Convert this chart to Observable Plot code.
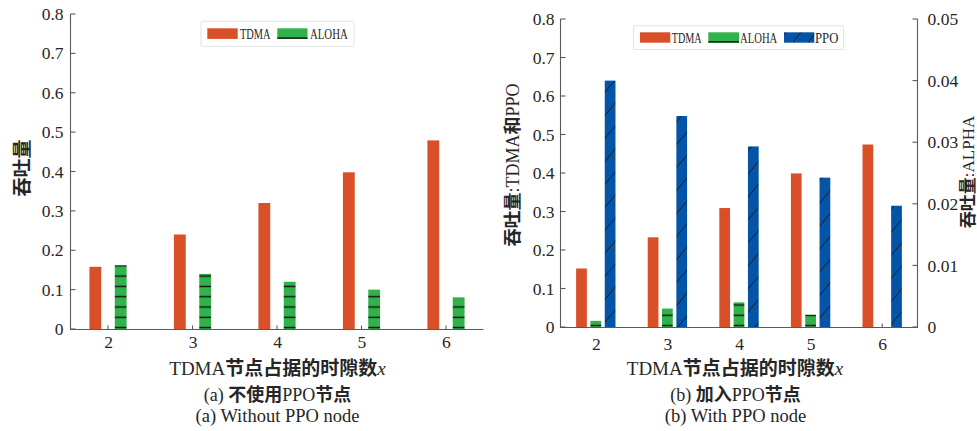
<!DOCTYPE html>
<html><head><meta charset="utf-8">
<script src="https://cdn.jsdelivr.net/npm/d3@7"></script>
<script src="https://cdn.jsdelivr.net/npm/@observablehq/plot@0.6"></script>
<style>
body{margin:0;background:#fff;width:977px;height:431px;overflow:hidden;position:relative;}
.panel{position:absolute;top:0}
#overlay{position:absolute;left:0;top:0;pointer-events:none}
</style></head><body>
<div id="a" class="panel" style="left:0;width:490px"></div>
<div id="b" class="panel" style="left:490px;width:487px"></div>
<script>
// ---------- data ----------
const categories = [2, 3, 4, 5, 6];
const tdmaA  = [0.158, 0.240, 0.320, 0.398, 0.479];
const alohaA = [0.162, 0.140, 0.120, 0.100, 0.080];
const tdmaB  = [0.152, 0.233, 0.309, 0.399, 0.474];
const alohaB = [0.001, 0.003, 0.004, 0.002, 0.000];   // right axis
const ppoB   = [0.640, 0.548, 0.469, 0.388, 0.315];
const yTicksLeft  = [0, 0.1, 0.2, 0.3, 0.4, 0.5, 0.6, 0.7, 0.8];
const yTicksRight = [0, 0.01, 0.02, 0.03, 0.04, 0.05];
const seriesA = ["TDMA", "ALOHA"];
const seriesB = ["TDMA", "ALOHA", "PPO"];

// ---------- style ----------
const C_TDMA = "#D95028", C_ALOHA = "#32B24A", C_PPO = "#0455A8";
const AXIS = "#5a5a5a", TXT = "#262626";
const FONT = '"Liberation Serif","Noto Sans CJK SC",serif';
const kRight = yTicksLeft[yTicksLeft.length - 1] / yTicksRight[yTicksRight.length - 1];

const hPattern = (id, color, step) => (index, scales, values, dims) => {
  const y0 = scales.y(0);
  const d = d3.create("svg:defs");
  const p = d.append("pattern").attr("id", id).attr("patternUnits", "userSpaceOnUse")
    .attr("width", 40).attr("height", step).attr("y", y0 - step);
  p.append("rect").attr("width", 40).attr("height", step).attr("fill", color);
  p.append("line").attr("x1", 0).attr("x2", 40).attr("y1", step - 1.3).attr("y2", step - 1.3)
    .attr("stroke", "#111").attr("stroke-width", 1.4);
  return d.node();
};
const dPattern = (id, color) => () => {
  const d = d3.create("svg:defs");
  const w = 19.2, h = 23;
  const p = d.append("pattern").attr("id", id).attr("patternUnits", "userSpaceOnUse")
    .attr("width", w).attr("height", h);
  p.append("rect").attr("width", w).attr("height", h).attr("fill", color);
  p.append("path").attr("d", `M${-2},${h + 2.4}L${w + 2},${-2.4}`)
    .attr("stroke", "#111").attr("stroke-width", 0.9);
  return d.node();
};
const frame = (opts) => (index, scales, values, dims) => {
  const {width, height, marginLeft, marginRight, marginTop, marginBottom} = dims;
  const xl = marginLeft + 0.5, xr = width - marginRight - 0.5, yb = height - marginBottom + 0.5, yt = marginTop;
  const g = d3.create("svg:g").attr("stroke", AXIS).attr("fill", "none").attr("stroke-width", 1.1);
  g.append("path").attr("d", `M${xl},${yt}V${yb}H${xr}` + (opts.right ? `V${yt}` : ""));
  opts.yTicks.forEach(v => g.append("path").attr("d", `M${xl},${scales.y(v)}h5`));
  categories.forEach(v => g.append("path").attr("d", `M${scales.x(v)},${yb}v-4`));
  if (opts.right) opts.rightTicks.forEach(v => g.append("path").attr("d", `M${xr},${scales.y(v * kRight)}h-5`));
  return g.node();
};
const bars = (vals, off, w, fill, k = 1) =>
  Plot.rectY(categories, {x1: c => c + off - w / 2, x2: c => c + off + w / 2, y1: 0, y2: (c, i) => vals[i] * k, fill});

const style = {background: "transparent", fontFamily: FONT, fontSize: "17.5px", color: TXT, overflow: "visible"};
const fmt1 = d => d === 0 ? "0" : d.toFixed(1);

// ---------- panel (a) ----------
const wA = 0.14, oA = 0.15;
const plotA = Plot.plot({
  width: 490, height: 350,
  marginLeft: 70, marginRight: 6, marginTop: 14, marginBottom: 21,
  style,
  x: {domain: [1.55, 6.45]},
  y: {domain: [0, 0.8]},
  marks: [
    hPattern("hatchA", C_ALOHA, 10.3),
    bars(tdmaA, -oA, wA, C_TDMA),
    bars(alohaA, oA, wA, "url(#hatchA)"),
    frame({yTicks: yTicksLeft}),
    Plot.axisY(yTicksLeft, {tickSize: 0, tickPadding: 7, tickFormat: fmt1, label: null}),
    Plot.axisX(categories, {tickSize: 0, tickPadding: 6, tickFormat: d => String(d), label: null})
  ]
});
document.getElementById("a").append(plotA);

// ---------- panel (b) ----------
const wB = 0.15, oB = 0.2;
const plotB = Plot.plot({
  width: 487, height: 350,
  marginLeft: 70, marginRight: 59, marginTop: 19, marginBottom: 23,
  style,
  x: {domain: [1.5, 6.5]},
  y: {domain: [0, 0.8]},
  marks: [
    hPattern("hatchB", C_ALOHA, 10.3),
    dPattern("diagB", C_PPO),
    bars(tdmaB, -oB, wB, C_TDMA),
    bars(alohaB, 0, wB, "url(#hatchB)", kRight),
    bars(ppoB, oB, wB, "url(#diagB)"),
    frame({yTicks: yTicksLeft, right: true, rightTicks: yTicksRight}),
    Plot.axisY(yTicksLeft, {tickSize: 0, tickPadding: 6, tickFormat: fmt1, label: null}),
    Plot.axisY(yTicksRight.map(t => t * kRight), {anchor: "right", tickSize: 0, tickPadding: 9,
      tickFormat: d => { const v = +(d / kRight).toFixed(3); return v === 0 ? "0" : String(v); }, label: null}),
    Plot.axisX(categories, {tickSize: 0, tickPadding: 10, tickFormat: d => String(d), label: null})
  ]
});
document.getElementById("b").append(plotB);

// ---------- overlay: titles, captions, legends ----------
const ov = d3.select("body").append("svg").attr("id", "overlay").attr("width", 977).attr("height", 431)
  .style("font-family", FONT).attr("fill", TXT);
const defs = ov.append("defs");
const lp = defs.append("pattern").attr("id", "legDiag").attr("patternUnits", "userSpaceOnUse")
  .attr("width", 15).attr("height", 20);
lp.append("rect").attr("width", 15).attr("height", 20).attr("fill", C_PPO);
lp.append("path").attr("d", "M-2,22.4L17,-2.4").attr("stroke", "#111").attr("stroke-width", 0.9);

const isCJK = s => /[\u3000-\u9fff]/.test(s);
function rich(t, text) {
  // split into runs of CJK / non-CJK; CJK drawn heavier as in the reference
  (text.match(/[\u3000-\u9fff]+|[^\u3000-\u9fff]+/g) || []).forEach(run => {
    const sp = t.append("tspan").text(run);
    if (isCJK(run)) sp.attr("font-weight", 700);
  });
  return t;
}
function vlabel(x, y, text, size) {
  const t = ov.append("text").attr("transform", `translate(${x},${y}) rotate(-90)`)
    .attr("text-anchor", "middle").attr("dominant-baseline", "central").attr("font-size", size);
  rich(t, text);
}
vlabel(21.5, 168, "吞吐量", 19);
vlabel(513, 165, "吞吐量:TDMA和PPO", 18);
vlabel(968, 172, "吞吐量:ALPHA", 17);

function xtitle(cx) {
  const t = ov.append("text").attr("x", cx).attr("y", 375).attr("text-anchor", "middle").attr("font-size", 19);
  t.append("tspan").text("TDMA");
  t.append("tspan").attr("font-weight", 700).text("节点占据的时隙数");
  t.append("tspan").attr("font-style", "italic").text("x");
}
xtitle(277.5); xtitle(735);

function caption(cx, cn, en) {
  rich(ov.append("text").attr("x", cx).attr("y", 401).attr("text-anchor", "middle").attr("font-size", 18), cn);
  ov.append("text").attr("x", cx).attr("y", 422).attr("text-anchor", "middle").attr("font-size", 18.5).text(en);
}
caption(277.5, "(a) 不使用PPO节点", "(a) Without PPO node");
caption(735.5, "(b) 加入PPO节点", "(b) With PPO node");

function legend(box, items) {
  ov.append("rect").attr("x", box[0]).attr("y", box[1]).attr("width", box[2]).attr("height", box[3])
    .attr("fill", "#fff").attr("stroke", "#dfe4ea").attr("stroke-width", 1).attr("rx", 1.5);
  items.forEach(it => {
    ov.append("rect").attr("x", it.sx).attr("y", it.sy).attr("width", it.sw).attr("height", it.sh).attr("fill", it.fill);
    if (it.base) ov.append("line").attr("x1", it.sx).attr("x2", it.sx + it.sw)
      .attr("y1", it.sy + it.sh - 0.8).attr("y2", it.sy + it.sh - 0.8).attr("stroke", "#111").attr("stroke-width", 1.4);
    ov.append("text").attr("x", it.tx).attr("y", it.ty).attr("font-size", 15.5)
      .attr("textLength", it.tl).attr("lengthAdjust", "spacingAndGlyphs").text(it.label);
  });
}
legend([201, 21.3, 153, 25], [
  {label: seriesA[0], fill: C_TDMA, sx: 207.3, sy: 28.3, sw: 30.4, sh: 10.6, tx: 240, ty: 39, tl: 30.5},
  {label: seriesA[1], fill: C_ALOHA, base: true, sx: 277.3, sy: 28.3, sw: 30.2, sh: 10.6, tx: 310, ty: 39, tl: 37.7}
]);
legend([633.5, 25.8, 210, 23.8], [
  {label: seriesB[0], fill: C_TDMA, sx: 640, sy: 32.3, sw: 30.3, sh: 10.4, tx: 671.7, ty: 42.6, tl: 30},
  {label: seriesB[1], fill: C_ALOHA, base: true, sx: 708.3, sy: 32.3, sw: 30.7, sh: 10.4, tx: 740, ty: 42.6, tl: 37.3},
  {label: seriesB[2], fill: "url(#legDiag)", sx: 784, sy: 32.3, sw: 30.3, sh: 10.4, tx: 815, ty: 42.6, tl: 23.3}
]);
</script>
</body></html>
